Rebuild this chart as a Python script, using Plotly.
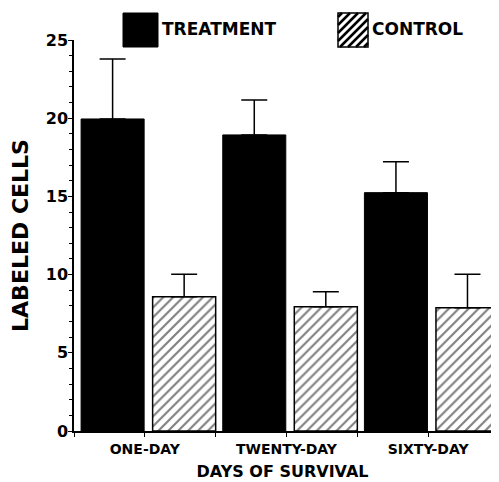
import plotly.graph_objects as go

# ---- data ----
categories = ["ONE-DAY", "TWENTY-DAY", "SIXTY-DAY"]
treatment_mean = [19.95, 18.93, 15.24]
treatment_err = [3.84, 2.23, 1.98]
control_mean = [8.59, 7.95, 7.88]
control_err = [1.43, 0.96, 2.14]
series_names = ["TREATMENT", "CONTROL"]
y_ticks = [0, 5, 10, 15, 20, 25]

FONT = "DejaVu Sans"
# the page body has an 8px default margin; the figure is drawn inside it
OFF = 8
W, H = 499 - 2 * OFF, 482 - OFF
ML, MR, MT, MB = 74 - OFF, 0, 40 - OFF, 51
PW, PH = W - ML - MR, H - MT - MB
UNIT = 425 / 3.0                      # px per category in the reference
X_RANGE = [-0.5, -0.5 + PW / UNIT]

xpos = list(range(len(categories)))

fig = go.Figure()
fig.add_trace(go.Bar(
    x=xpos, y=treatment_mean, name=series_names[0],
    offset=-0.45, width=0.445,
    marker=dict(color="black", line=dict(color="black", width=1)),
    error_y=dict(type="data", symmetric=False, array=treatment_err,
                 arrayminus=[0] * len(treatment_err),
                 color="black", thickness=1.5, width=13),
    showlegend=False,
))
fig.add_trace(go.Bar(
    x=xpos, y=control_mean, name=series_names[1],
    offset=0.055, width=0.445,
    marker=dict(color="white", line=dict(color="black", width=1.5),
                pattern=dict(shape="/", fgcolor="black", bgcolor="white",
                             size=7, solidity=0.3)),
    error_y=dict(type="data", symmetric=False, array=control_err,
                 arrayminus=[0] * len(control_err),
                 color="black", thickness=1.5, width=13),
    showlegend=False,
))


def px2paper(px, py):
    # px, py given in reference-picture pixels
    px -= OFF
    py -= OFF
    return (px - ML) / PW, (H - MB - py) / PH


shapes = []
# legend: treatment box
x0, y0 = px2paper(123, 13)
x1, y1 = px2paper(158, 47)
shapes.append(dict(type="rect", xref="paper", yref="paper", x0=x0, y0=y1, x1=x1, y1=y0,
                   fillcolor="black", line=dict(color="black", width=1)))
# legend: control box with hatch
bx0, by0, bx1, by1 = 338, 13, 368, 47
step = 8
c = bx0 + by0 + 4
while c < bx1 + by1:
    xa = max(bx0, c - by1)
    xb = min(bx1, c - by0)
    if xb > xa:
        p0 = px2paper(xa, c - xa)
        p1 = px2paper(xb, c - xb)
        shapes.append(dict(type="line", xref="paper", yref="paper",
                           x0=p0[0], y0=p0[1], x1=p1[0], y1=p1[1],
                           line=dict(color="black", width=2.5)))
    c += step
x0, y0 = px2paper(bx0, by0)
x1, y1 = px2paper(bx1, by1)
shapes.append(dict(type="rect", xref="paper", yref="paper", x0=x0, y0=y1, x1=x1, y1=y0,
                   fillcolor="rgba(0,0,0,0)", line=dict(color="black", width=1.5)))

annotations = []
tx, ty = px2paper(160, 29)
annotations.append(dict(text=series_names[0], xref="paper", yref="paper", x=tx, y=ty,
                        xanchor="left", yanchor="middle", showarrow=False,
                        font=dict(family=FONT, size=17, color="black", weight="bold")))
tx, ty = px2paper(370, 29)
annotations.append(dict(text=series_names[1], xref="paper", yref="paper", x=tx, y=ty,
                        xanchor="left", yanchor="middle", showarrow=False,
                        font=dict(family=FONT, size=17, color="black", weight="bold")))

fig.update_layout(
    width=W, height=H,
    margin=dict(l=ML, r=MR, t=MT, b=MB, pad=0),
    paper_bgcolor="white", plot_bgcolor="white",
    barmode="overlay",
    shapes=shapes, annotations=annotations,
    font=dict(family=FONT, color="black"),
)
fig.update_xaxes(
    range=X_RANGE, tickmode="array", tickvals=xpos, ticktext=categories,
    showline=True, linecolor="black", linewidth=1.5,
    ticks="outside", ticklen=4, tickwidth=1, tickcolor="black",
    minor=dict(tickmode="linear", tick0=0, dtick=0.5, ticks="outside", ticklen=4,
               tickcolor="black"),
    showgrid=False, zeroline=False,
    tickfont=dict(family=FONT, size=14, color="black", weight="bold"),
    title=dict(text="DAYS OF SURVIVAL", standoff=10,
               font=dict(family=FONT, size=16, color="black", weight="bold")),
)
fig.update_yaxes(
    range=[0, 25], tickmode="array", tickvals=y_ticks,
    showline=True, linecolor="black", linewidth=1.5,
    ticks="outside", ticklen=4, tickwidth=1, tickcolor="black",
    minor=dict(tickmode="linear", tick0=0, dtick=1, ticks="outside", ticklen=3,
               tickcolor="black"),
    showgrid=False, zeroline=False,
    ticklabelstandoff=-3,
    tickfont=dict(family=FONT, size=16, color="black", weight="bold"),
    title=dict(text="LABELED CELLS", standoff=12,
               font=dict(family=FONT, size=22, color="black", weight="bold")),
)

fig.write_html("out.html")
